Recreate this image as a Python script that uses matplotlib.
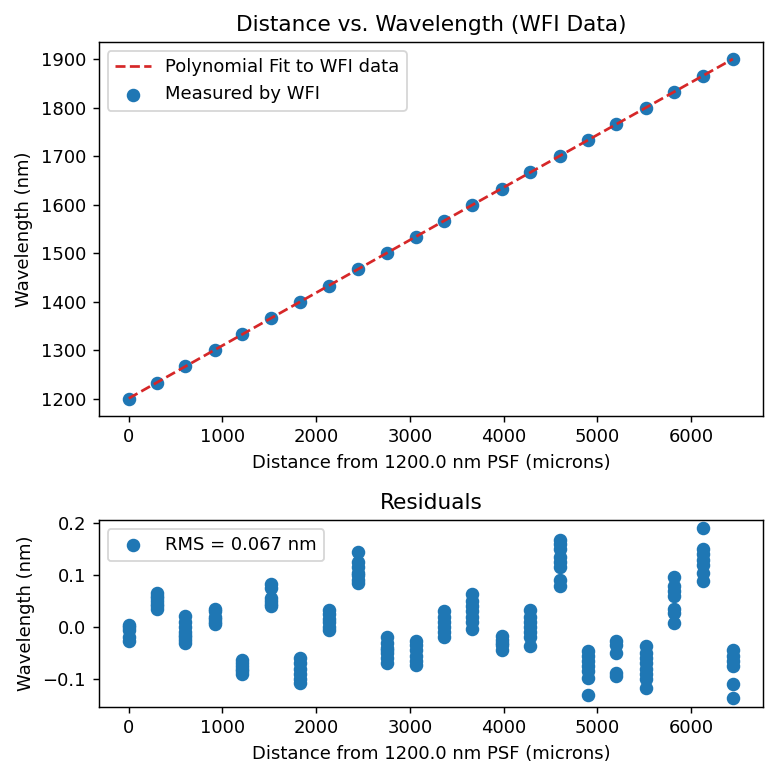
import matplotlib
matplotlib.use("Agg")
import matplotlib.pyplot as plt
import numpy as np

# distance of each PSF from the 1200 nm one (microns)
distances = [0, 302, 598, 915, 1209, 1523, 1825, 2134, 2447, 2757, 3060,
             3362, 3664, 3978, 4277, 4597, 4899, 5201, 5515, 5816, 6126, 6446]
# wavelength of each PSF (nm)
wavelengths = [1200.0, 1233.3, 1266.7, 1300.0, 1333.3, 1366.7, 1400.0, 1433.3,
               1466.7, 1500.0, 1533.3, 1566.7, 1600.0, 1633.3, 1666.7, 1700.0,
               1733.3, 1766.7, 1800.0, 1833.3, 1866.7, 1900.0]

# residuals of the fit, several measurements per PSF (nm)
residuals = [
    [0.004, 0.0, -0.005, -0.02, -0.027],
    [0.065, 0.06, 0.055, 0.05, 0.045, 0.04, 0.035],
    [0.022, 0.01, 0.0, -0.01, -0.015, -0.02, -0.025, -0.031],
    [0.035, 0.03, 0.02, 0.015, 0.01, 0.005],
    [-0.063, -0.07, -0.075, -0.08, -0.085, -0.09],
    [0.082, 0.075, 0.055, 0.05, 0.045, 0.04],
    [-0.06, -0.07, -0.08, -0.09, -0.1, -0.108],
    [0.033, 0.025, 0.015, 0.01, 0.0, -0.005],
    [0.145, 0.125, 0.115, 0.105, 0.1, 0.09, 0.085],
    [-0.02, -0.03, -0.04, -0.045, -0.05, -0.06, -0.069],
    [-0.026, -0.035, -0.045, -0.055, -0.065, -0.074],
    [0.031, 0.02, 0.01, 0.0, -0.01, -0.019],
    [0.063, 0.05, 0.04, 0.03, 0.02, 0.01, -0.003],
    [-0.017, -0.025, -0.03, -0.035, -0.044],
    [0.033, 0.02, 0.01, 0.0, -0.01, -0.02, -0.036],
    [0.168, 0.16, 0.15, 0.135, 0.125, 0.115, 0.09, 0.08],
    [-0.046, -0.055, -0.065, -0.075, -0.085, -0.098, -0.13],
    [-0.026, -0.035, -0.05, -0.088, -0.095],
    [-0.037, -0.05, -0.06, -0.07, -0.08, -0.09, -0.1, -0.117],
    [0.097, 0.08, 0.07, 0.06, 0.035, 0.028, 0.007],
    [0.19, 0.15, 0.14, 0.13, 0.12, 0.105, 0.089],
    [-0.045, -0.055, -0.065, -0.075, -0.11, -0.137],
]
rms_label = "RMS = 0.067 nm"

coeffs = np.polyfit(distances, wavelengths, 2)
fit = np.polyval(coeffs, distances)

res_x = [d for d, r in zip(distances, residuals) for _ in r]
res_y = [v for r in residuals for v in r]

fig, (ax1, ax2) = plt.subplots(2, 1, figsize=(770 / 130, 764 / 130), dpi=130,
                               gridspec_kw={"height_ratios": [2, 1]})
fig.subplots_adjust(left=0.128, right=0.991, top=0.945, bottom=0.075, hspace=0.372)

ax1.plot(distances, fit, "--", color="#d62728", label="Polynomial Fit to WFI data")
ax1.scatter(distances, wavelengths, s=42, label="Measured by WFI")
ax1.set_title("Distance vs. Wavelength (WFI Data)")
ax1.set_xlabel("Distance from 1200.0 nm PSF (microns)")
ax1.set_ylabel("Wavelength (nm)")
ax1.legend(loc="upper left")

ax2.scatter(res_x, res_y, s=42, label=rms_label)
ax2.set_title("Residuals")
ax2.set_xlabel("Distance from 1200.0 nm PSF (microns)")
ax2.set_ylabel("Wavelength (nm)")
ax2.legend(loc="upper left")

fig.savefig("out.png", dpi=130)
plt.close(fig)
